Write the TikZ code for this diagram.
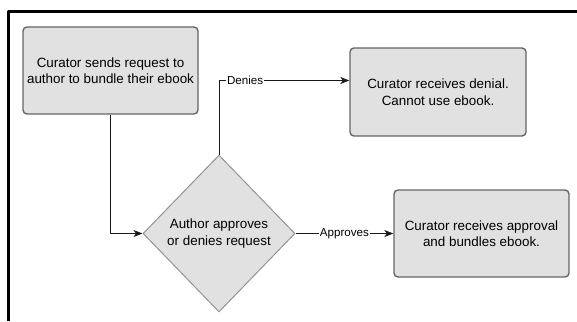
\documentclass[tikz,border=0pt]{standalone}
\usepackage{fontspec}
\setmainfont{Liberation Sans}
\usetikzlibrary{shapes.geometric,arrows.meta}
\definecolor{boxfill}{HTML}{E1E1E1}
\definecolor{boxline}{HTML}{666666}
\definecolor{edgeline}{HTML}{1A1A1A}
\begin{document}
\begin{tikzpicture}[x=1pt, y=-1pt, line join=round, >={Stealth[length=9pt, width=7pt, inset=2.5pt]},
	box/.style={draw=boxline, fill=boxfill, line width=1.4pt, rounded corners=4pt, minimum width=175pt, minimum height=87pt, align=center, font=\fontsize{13.4}{16.5}\selectfont},
	choice/.style={diamond, draw=boxline!70, fill=boxfill, line width=1pt, minimum width=152pt, minimum height=157pt, inner sep=0pt, align=center, font=\fontsize{13.4}{16.5}\selectfont},
	edge/.style={draw=edgeline, line width=1pt},
	lbl/.style={fill=white, inner sep=1pt, font=\fontsize{11.6}{13}\selectfont}]
	\useasboundingbox (0,0) rectangle (577,321);
	\draw[line width=3pt] (8.3,321)--(8.3,11.5)--(577,11.5);
	\path 
	(110.5,70.5) coordinate (S)
	(219,233.5) coordinate (A)
	(438,92) coordinate (N)
	(481.5,233.5) coordinate (Y)
	;
	\node[box] (send) at (S) {Curator sends request to\\author to bundle their ebook};
	\node[choice] (ask) at (A) {Author approves\\or denies request};
	\node[box, minimum width=176pt, minimum height=88pt] (deny) at (N) {Curator receives denial.\\Cannot use ebook.};
	\node[box] (ok) at (Y) {Curator receives approval\\and bundles ebook.};
	\draw[edge, ->] (send.south) |- (ask.west);
	\draw[edge, ->] (ask.north) -- ++(0,-74) coordinate (K) -- (K -| deny.west) node[lbl, pos=0.2]{Denies};
	\draw[edge, ->] (ask.east) -- (ok.west) node[lbl, midway]{Approves};
	\end{tikzpicture}
\end{document}
